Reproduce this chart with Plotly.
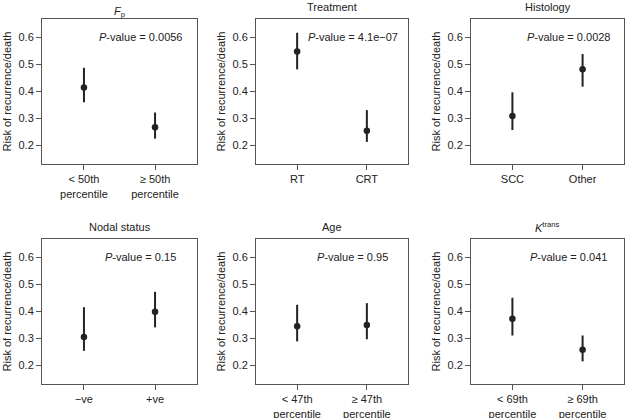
import plotly.graph_objects as go

# ---- data ----
panel_titles = ["<i>F</i><sub>p</sub>", "Treatment", "Histology",
                "Nodal status", "Age", "<i>K</i><sup>trans</sup>"]
group_labels = [
    ["< 50th<br>percentile", "≥ 50th<br>percentile"],
    ["RT", "CRT"],
    ["SCC", "Other"],
    ["−ve", "+ve"],
    ["< 47th<br>percentile", "≥ 47th<br>percentile"],
    ["< 69th<br>percentile", "≥ 69th<br>percentile"],
]
p_values = ["0.0056", "4.1e−07", "0.0028", "0.15", "0.95", "0.041"]

fp_est = [0.414, 0.266]
fp_low = [0.359, 0.224]
fp_high = [0.487, 0.321]

trt_est = [0.547, 0.253]
trt_low = [0.481, 0.212]
trt_high = [0.617, 0.330]

hist_est = [0.308, 0.482]
hist_low = [0.256, 0.417]
hist_high = [0.396, 0.538]

nodal_est = [0.304, 0.398]
nodal_low = [0.253, 0.340]
nodal_high = [0.415, 0.472]

age_est = [0.344, 0.349]
age_low = [0.288, 0.296]
age_high = [0.424, 0.430]

ktrans_est = [0.372, 0.257]
ktrans_low = [0.310, 0.214]
ktrans_high = [0.450, 0.310]

y_ticks = [0.2, 0.3, 0.4, 0.5, 0.6]
y_title = "Risk of recurrence/death"

estimates = [fp_est, trt_est, hist_est, nodal_est, age_est, ktrans_est]
lowers = [fp_low, trt_low, hist_low, nodal_low, age_low, ktrans_low]
uppers = [fp_high, trt_high, hist_high, nodal_high, age_high, ktrans_high]

# ---- layout geometry (pixels) ----
W, H = 625, 418
col_px = [(42, 197), (256, 408), (471, 624)]
row_px = [(19, 164), (239, 384)]
title_gap = [7, 12, 12, 12, 12, 12]  # px above box top for title centre

FONT = "Liberation Sans, Arial, Helvetica, sans-serif"
INK = "#222222"
BOX = "#555555"

fig = go.Figure()
annotations = []

for i in range(6):
    r, c = divmod(i, 3)
    x0, x1 = col_px[c]
    yt, yb = row_px[r]
    ax = "" if i == 0 else str(i + 1)
    xa = "x" + ax
    ya = "y" + ax
    est = estimates[i]
    lo = lowers[i]
    hi = uppers[i]
    fig.add_trace(go.Scatter(
        x=[1, 2], y=est, mode="markers",
        marker=dict(color=INK, size=6.5),
        error_y=dict(type="data", symmetric=False,
                     array=[h - e for h, e in zip(hi, est)],
                     arrayminus=[e - l for e, l in zip(est, lo)],
                     width=0, thickness=2, color=INK),
        xaxis=xa, yaxis=ya, showlegend=False, hoverinfo="skip",
    ))
    common = dict(showline=True, mirror=True, linecolor=BOX, linewidth=1,
                  ticks="outside", ticklen=5, tickcolor=BOX, tickwidth=1,
                  showgrid=False, zeroline=False, automargin=False,
                  tickfont=dict(family=FONT, size=11, color=INK))
    fig.update_layout(**{
        ("xaxis" + ax): dict(domain=[x0 / W, x1 / W], range=[0.41, 2.59],
                             tickmode="array", tickvals=[1, 2],
                             ticktext=group_labels[i], anchor=ya, **common),
        ("yaxis" + ax): dict(domain=[1 - yb / H, 1 - yt / H], range=[0.13, 0.668],
                             tickmode="array", tickvals=y_ticks,
                             ticktext=[f"{v:.1f}" for v in y_ticks],
                             anchor=xa, **common),
    })
    # panel title
    annotations.append(dict(
        text=panel_titles[i], xref="paper", yref="paper",
        x=(x0 + x1) / 2 / W, y=1 - (yt - title_gap[i]) / H,
        xanchor="center", yanchor="middle", showarrow=False,
        font=dict(family=FONT, size=11, color=INK)))
    # y title
    annotations.append(dict(
        text=y_title, xref="paper", yref="paper",
        x=(x0 - 36) / W, y=1 - (yt + yb) / 2 / H, textangle=-90,
        xanchor="center", yanchor="middle", showarrow=False,
        font=dict(family=FONT, size=11, color=INK)))
    # p-value
    annotations.append(dict(
        text="<i>P</i>-value = " + p_values[i], xref=xa, yref=ya,
        x=1.8, y=0.6, xanchor="center", yanchor="middle", showarrow=False,
        font=dict(family=FONT, size=11, color=INK)))

fig.update_layout(
    width=W, height=H, margin=dict(l=0, r=0, t=0, b=0, autoexpand=False),
    paper_bgcolor="white", plot_bgcolor="white",
    annotations=annotations, showlegend=False,
)

fig.write_html("out.html", config={"displayModeBar": False},
               post_script="document.body.style.margin='0';"
                           "document.body.style.padding='0';")
